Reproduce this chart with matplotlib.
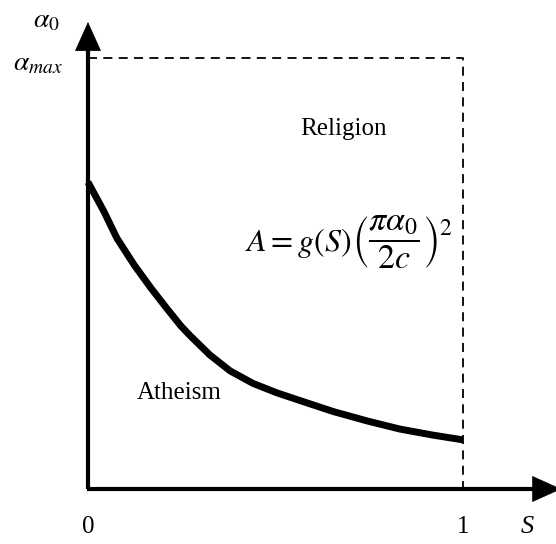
import numpy as np
import matplotlib.pyplot as plt

plt.rcParams['mathtext.fontset'] = 'stix'

# curve: alpha_0 threshold vs S (alpha_max = 1)
s_vals = [0.0, 0.043, 0.077, 0.123, 0.168, 0.211, 0.248, 0.272, 0.325, 0.379,
          0.44, 0.504, 0.573, 0.653, 0.744, 0.832, 0.92, 1.0]
a_vals = [0.712, 0.643, 0.582, 0.520, 0.466, 0.418, 0.378, 0.356, 0.311, 0.274,
          0.245, 0.223, 0.203, 0.180, 0.158, 0.139, 0.125, 0.114]
x_ticks = [0, 1]
x_tick_labels = ['0', '1']
alpha_max = 1.0

fig = plt.figure(figsize=(5.56, 5.44), dpi=100)
ax = fig.add_axes([0, 0, 1, 1])
ax.set_xlim(-88 / 375, 468 / 375)
ax.set_ylim(-55 / 431, 489 / 431)
ax.axis('off')

serif = 'Liberation Serif'

# dashed box up to alpha_max and S = 1
ax.plot([0, 1, 1], [alpha_max, alpha_max, 0], color='black', lw=1.3,
        dashes=(5, 3.5), zorder=2)

# axes with arrow heads
ax.plot([0, 0], [0, 1.03], color='black', lw=3, solid_capstyle='butt', zorder=3)
ax.plot([-0.004, 1.2], [0, 0], color='black', lw=3, solid_capstyle='butt', zorder=3)
head = dict(arrowstyle='-|>,head_length=1.0,head_width=0.45', mutation_scale=20,
            color='black', lw=0.5, shrinkA=0, shrinkB=0)
ax.annotate('', xy=(0, 1.0835), xytext=(0, 1.0255), arrowprops=head,
            annotation_clip=False)
ax.annotate('', xy=(1.262, 0), xytext=(1.19, 0), arrowprops=head,
            annotation_clip=False)

# the threshold curve
ax.plot(s_vals, a_vals, color='black', lw=5, solid_capstyle='butt',
        solid_joinstyle='round', zorder=4)

# labels
for t, lab in zip(x_ticks, x_tick_labels):
    ax.text(t, -0.088, lab, ha='center', va='center', fontsize=18, family=serif)
ax.text(1.171, -0.088, 'S', ha='center', va='center', fontsize=19,
        family=serif, style='italic')
ax.text(-0.112, 1.09, r'$\alpha_0$', ha='center', va='center', fontsize=20)
ax.text(-0.133, 0.99, r'$\alpha_{max}$', ha='center', va='center', fontsize=20)

ax.text(0.68, 0.835, 'Religion', ha='center', va='center', fontsize=18, family=serif)
ax.text(0.243, 0.223, 'Atheism', ha='center', va='center', fontsize=18, family=serif)

# formula: left part and the bracketed fraction drawn a bit larger
ax.text(0.701, 0.571, r'$A=g(S)$', ha='right', va='center', fontsize=23)
ax.text(0.704, 0.571, r'$\left(\dfrac{\pi\alpha_0}{2c}\right)^2$',
        ha='left', va='center', fontsize=24.5)

fig.savefig('out.png', dpi=100)
